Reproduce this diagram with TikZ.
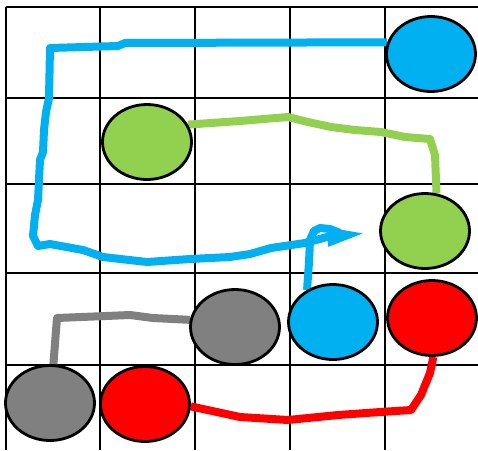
\documentclass[tikz,border=0pt]{standalone}
\usetikzlibrary{shapes.geometric,arrows.meta,backgrounds}

\definecolor{rbBlue}{HTML}{00B0F0}
\definecolor{rbGreen}{HTML}{92D050}
\definecolor{rbGray}{HTML}{808080}
\definecolor{rbRed}{HTML}{FF0000}

\begin{document}
\begin{tikzpicture}[
  x=1pt, y=-1pt,
  dot/.style={ellipse, draw, line width=2.8pt, inner sep=0pt,
              minimum width=89pt, minimum height=75pt},
  trail/.style={line width=8pt, line join=round},
  gridline/.style={line width=2.4pt}
]
  \useasboundingbox (0,0) rectangle (478,450);

  % ---- dots ----
  \node[dot, fill=rbBlue]  (blueA)  at (431,54)  {};
  \node[dot, fill=rbGreen] (greenA) at (147,142) {};
  \node[dot, fill=rbGreen] (greenB) at (425,231) {};
  \node[dot, fill=rbGray]  (grayB)  at (235,327) {};
  \node[dot, fill=rbBlue]  (blueB)  at (333,322) {};
  \node[dot, fill=rbRed]   (redB)   at (432,318) {};
  \node[dot, fill=rbGray]  (grayA)  at (50,403)  {};
  \node[dot, fill=rbRed]   (redA)   at (145,404) {};
  \coordinate (tip) at (367,233);

  \begin{scope}[on background layer]
    % ---- grid ----
    \foreach \gx in {6,100,195,290,385}
      \draw[gridline] (\gx,7) -- (\gx,450);
    \foreach \gy in {7,98,184,273,365}
      \draw[gridline] (6,\gy) -- (478,\gy);

    % ---- trails ----
    \draw[trail, rbBlue, -{Triangle[length=40pt,width=17pt]}]
      (blueA.165) -- (125,43) -- (118,46) -- (50,48) -- (49,98) -- (46,112)
      -- (44,130) -- (43,152) -- (40,160) -- (38,200) -- (35,215) -- (33,236)
      -- (38,246) -- (50,244) -- (83,250) -- (103,257) -- (147,262)
      -- (190,259) -- (230,257) -- (250,254) -- (271,248) -- (305,243)
      -- (327,237) -- (tip);
    \draw[trail, rbBlue]
      (blueB.129) -- (309,262) -- (310,240) -- (314,231) -- (320,228)
      -- (330,229) -- (340,233);
    \draw[trail, rbGreen]
      (greenA.23) -- (240,121) -- (288,117) -- (308,122) -- (331,127)
      -- (355,130) -- (381,132) -- (405,137) -- (430,139) -- (435,155)
      -- (greenB.73);
    \draw[trail, rbGray]
      (grayB.171) -- (153,318) -- (130,315) -- (57,318) -- (grayA.85);
    \draw[trail, rbRed]
      (redA.-3) -- (217,412) -- (240,417) -- (288,420) -- (338,415)
      -- (380,412) -- (411,410) -- (421,395) -- (430,373) -- (redB.-88);
  \end{scope}
\end{tikzpicture}
\end{document}
